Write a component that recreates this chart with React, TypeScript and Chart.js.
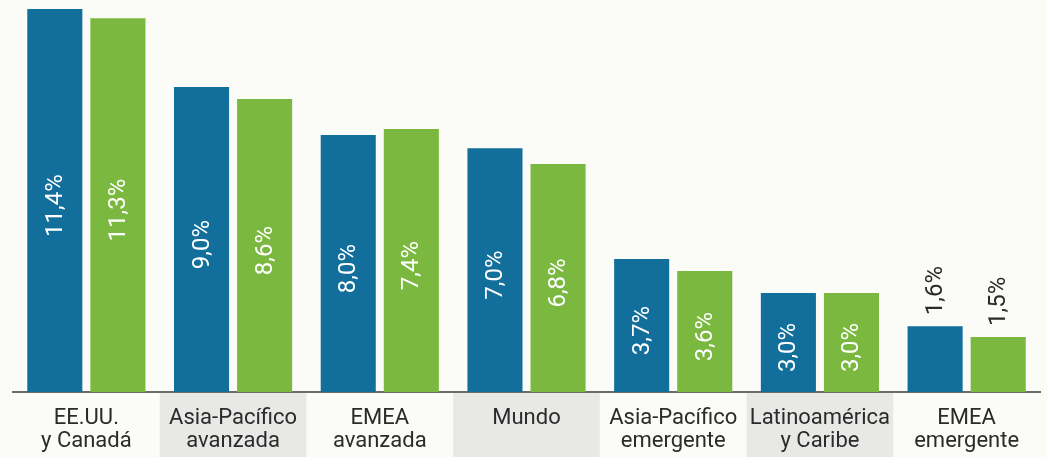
import React, { useEffect, useRef } from "react";
import { Chart, registerables } from "chart.js";

Chart.register(...registerables);

const categories: string[][] = [
  ["EE.UU.", "y Canadá"],
  ["Asia-Pacífico", "avanzada"],
  ["EMEA", "avanzada"],
  ["Mundo"],
  ["Asia-Pacífico", "emergente"],
  ["Latinoamérica", "y Caribe"],
  ["EMEA", "emergente"],
];
// Bar lengths as drawn in the picture
const barsA: number[] = [11.4, 9.08, 7.65, 7.26, 3.96, 2.95, 1.96];
const barsB: number[] = [11.13, 8.72, 7.83, 6.79, 3.6, 2.95, 1.64];
// Printed value labels
const labelsA: string[] = ["11,4%", "9,0%", "8,0%", "7,0%", "3,7%", "3,0%", "1,6%"];
const labelsB: string[] = ["11,3%", "8,6%", "7,4%", "6,8%", "3,6%", "3,0%", "1,5%"];
const valueLabels: string[][] = [labelsA, labelsB];

const BLUE = "#126f9b";
const GREEN = "#7bb83f";
const BG = "#fbfbf7";
const BAND = "#e8e8e6";
const TEXT = "#2b2b2b";
const FONT = "Roboto";

const bgPlugin = {
  id: "bgBands",
  beforeDraw(chart: any) {
    const { ctx, chartArea, scales } = chart;
    ctx.save();
    ctx.fillStyle = BG;
    ctx.fillRect(0, 0, chart.width, chart.height);
    const x = scales.x;
    const catW = (chartArea.right - chartArea.left) / categories.length;
    ctx.fillStyle = BAND;
    for (let i = 0; i < categories.length; i++) {
      if (i % 2 === 1) {
        const cx = x.getPixelForValue(i);
        ctx.fillRect(cx - catW / 2, chartArea.bottom + 1, catW, chart.height - chartArea.bottom);
      }
    }
    ctx.restore();
  },
};

const valuePlugin = {
  id: "valueLabels",
  afterDatasetsDraw(chart: any) {
    const { ctx } = chart;
    ctx.save();
    ctx.font = `400 24px ${FONT}`;
    ctx.textBaseline = "middle";
    chart.data.datasets.forEach((ds: any, di: number) => {
      const meta = chart.getDatasetMeta(di);
      meta.data.forEach((bar: any, i: number) => {
        const v = ds.data[i] as number;
        const text = valueLabels[di][i];
        const { x, y, base } = bar.getProps(["x", "y", "base"], true);
        ctx.save();
        if (v >= 2.5) {
          ctx.fillStyle = "#ffffff";
          ctx.translate(x + 1, (y + base) / 2 + 5);
          ctx.rotate(-Math.PI / 2);
          ctx.textAlign = "center";
        } else {
          ctx.fillStyle = TEXT;
          ctx.translate(x + 1, y - 11);
          ctx.rotate(-Math.PI / 2);
          ctx.textAlign = "left";
        }
        ctx.fillText(text, 0, 0);
        ctx.restore();
      });
    });
    ctx.restore();
  },
};

export default function App() {
  const ref = useRef<HTMLCanvasElement | null>(null);
  useEffect(() => {
    document.body.style.margin = "0";
    document.body.style.background = BG;
    if (!ref.current) return;
    const chart = new Chart(ref.current, {
      type: "bar",
      data: {
        labels: categories,
        datasets: [
          { data: barsA, backgroundColor: BLUE, categoryPercentage: 0.86, barPercentage: 0.873 },
          { data: barsB, backgroundColor: GREEN, categoryPercentage: 0.86, barPercentage: 0.873 },
        ],
      },
      options: {
        responsive: false,
        animation: false,
        devicePixelRatio: 1,
        layout: { padding: { left: 13, right: 7, top: 0, bottom: 0 } },
        plugins: { legend: { display: false }, tooltip: { enabled: false } },
        scales: {
          x: {
            grid: { display: false, drawTicks: false },
            border: { display: true, color: "#6b6b6b", width: 2 },
            ticks: {
              color: TEXT,
              font: { family: FONT, size: 22, weight: "400", lineHeight: 1.05 },
              padding: 15,
              maxRotation: 0,
              autoSkip: false,
            },
            afterFit(scale: any) {
              scale.height = 65;
            },
          },
          y: { display: false, min: 0, max: 11.67 },
        },
      },
      plugins: [bgPlugin, valuePlugin],
    });
    return () => chart.destroy();
  }, []);
  return (
    <div style={{ width: 1047, height: 457, background: BG }}>
      <canvas ref={ref} width={1047} height={457} style={{ display: "block" }} />
    </div>
  );
}
